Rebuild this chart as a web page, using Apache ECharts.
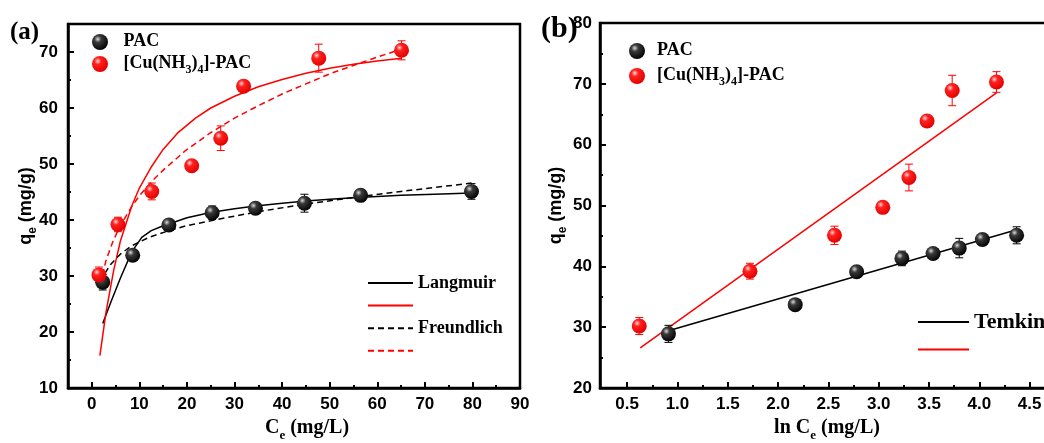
<!DOCTYPE html>
<html>
<head>
<meta charset="utf-8">
<script src="https://cdn.jsdelivr.net/npm/echarts@6/dist/echarts.min.js"></script>
<style>
  html, body { margin: 0; padding: 0; background: #fff; }
  #chart { width: 1044px; height: 443px; }
</style>
</head>
<body>
<div id="chart"></div>
<script>
// ---- (a) adsorption isotherms: qe versus Ce ----
const pacCe  = [2.3, 8.6, 16.2, 25.3, 34.4, 44.7, 56.5, 79.8];
const pacQe  = [28.9, 33.7, 39.1, 41.3, 42.1, 43.0, 44.4, 45.1];
const pacErr = [1.4, 0.4, 0.9, 1.2, 0.6, 1.6, 0.9, 1.4];

const cuCe  = [1.5, 5.5, 12.6, 21.0, 27.1, 31.9, 47.7, 65.1];
const cuQe  = [30.2, 39.2, 45.1, 49.7, 54.6, 63.9, 68.9, 70.3];
const cuErr = [1.4, 1.3, 1.5, 0.5, 2.2, 0.8, 2.5, 1.7];

// fitted curves, sampled along Ce
const langPacCe = [2.3, 4, 6, 8.4, 10.5, 12.5, 14.5, 16.2, 20, 25.2, 30, 34.4, 40, 45, 50, 56, 65, 72, 79.8];
const langPacQe = [21.5, 25.3, 29.6, 34.3, 36.9, 38.1, 38.8, 39.3, 40.4, 41.4, 42.0, 42.5, 43.0, 43.4, 43.7, 44.0, 44.4, 44.6, 44.8];
const freuPacCe = [1.8, 2.3, 4, 6, 8.4, 12, 16.2, 20, 25.2, 30, 36.5, 44.7, 56.5, 65, 72, 79.8];
const freuPacQe = [28.9, 29.9, 32.1, 33.9, 35.4, 36.9, 38.1, 39.0, 39.9, 40.7, 41.7, 42.8, 44.2, 45.1, 45.8, 46.6];

const langCuCe = [1.7, 3, 4.6, 6, 8.4, 10, 12.6, 15, 18, 21.8, 25, 30, 35, 40, 45, 50, 55, 60, 65.1];
const langCuQe = [15.8, 23.6, 31.0, 36.2, 42.5, 45.7, 49.6, 52.6, 55.5, 58.2, 60.0, 62.1, 63.8, 65.1, 66.2, 67.1, 67.8, 68.4, 68.9];
const freuCuCe = [1.7, 3, 4.5, 6, 8.4, 10, 12.6, 15, 19.7, 25, 30, 35, 40, 45, 50, 55, 60, 65.1];
const freuCuQe = [28.4, 32.8, 36.3, 39.0, 42.4, 44.3, 46.9, 48.9, 52.4, 55.6, 58.2, 60.4, 62.5, 64.3, 66.1, 67.6, 69.1, 70.5];

// ---- (b) Temkin plot: qe versus ln Ce ----
const pacLnCe = [0.91, 2.17, 2.78, 3.23, 3.54, 3.80, 4.03, 4.37];
const cuLnCe  = [0.62, 1.72, 2.56, 3.04, 3.30, 3.48, 3.73, 4.17];
const temkinPac = [[0.91, 29.4], [4.37, 46.0]];
const temkinCu  = [[0.63, 26.6], [4.17, 68.5]];

// ---- tick values ----
const xTicksA = [0, 10, 20, 30, 40, 50, 60, 70, 80, 90];
const xMinorA = [5, 15, 25, 35, 45, 55, 65, 75, 85];
const yTicksA = [10, 20, 30, 40, 50, 60, 70];
const yMinorA = [15, 25, 35, 45, 55, 65, 75];
const xTicksB = [0.5, 1.0, 1.5, 2.0, 2.5, 3.0, 3.5, 4.0, 4.5, 5.0];
const xMinorB = [0.75, 1.25, 1.75, 2.25, 2.75, 3.25, 3.75, 4.25, 4.75];
const yTicksB = [20, 30, 40, 50, 60, 70, 80];
const yMinorB = [25, 35, 45, 55, 65, 75];

const SANS = '"Liberation Sans", Arial, sans-serif';
const SERIF = '"Liberation Serif", "Times New Roman", serif';
const RED = '#ff0000';

const zip = (xs, ys) => xs.map((x, i) => [x, ys[i]]);
const errRows = (xs, ys, es) => xs.map((x, i) => [x, ys[i] - es[i], ys[i] + es[i]]);

const ballBlack = new echarts.graphic.RadialGradient(0.36, 0.32, 0.72, [
  { offset: 0, color: '#d8d8d8' },
  { offset: 0.3, color: '#3a3a3a' },
  { offset: 1, color: '#000000' }
]);
const ballRed = new echarts.graphic.RadialGradient(0.36, 0.32, 0.72, [
  { offset: 0, color: '#ffd6d6' },
  { offset: 0.3, color: '#ff2020' },
  { offset: 1, color: '#e00000' }
]);

function subStyles(size, sub, family) {
  return {
    m: { fontSize: size, fontFamily: family, fontWeight: 'bold', color: '#000', lineHeight: size + 2, verticalAlign: 'top' },
    sub: { fontSize: sub, fontFamily: family, fontWeight: 'bold', color: '#000', lineHeight: sub, verticalAlign: 'top', padding: [Math.round(size * 0.55), 0, 0, 0] }
  };
}

function errorBar(params, api) {
  const x = api.value(0);
  const top = api.coord([x, api.value(2)]);
  const bot = api.coord([x, api.value(1)]);
  const half = 4;
  const style = { stroke: api.visual('color'), lineWidth: 1 };
  return {
    type: 'group',
    children: [
      { type: 'line', shape: { x1: top[0], y1: top[1], x2: bot[0], y2: bot[1] }, style },
      { type: 'line', shape: { x1: top[0] - half, y1: top[1], x2: top[0] + half, y2: top[1] }, style },
      { type: 'line', shape: { x1: bot[0] - half, y1: bot[1], x2: bot[0] + half, y2: bot[1] }, style }
    ]
  };
}

function mainX(grid, min, max, ticks, fmt, name, gap, namePad) {
  return {
    type: 'value', gridIndex: grid, position: 'bottom', min, max,
    axisLine: { show: true, onZero: false, lineStyle: { color: '#000', width: 2.5 } },
    axisTick: { show: true, inside: true, length: 6, customValues: ticks, lineStyle: { color: '#000', width: 2 } },
    axisLabel: { show: true, customValues: ticks, margin: 8, formatter: fmt, color: '#000', fontFamily: SANS, fontWeight: 'bold', fontSize: 17 },
    splitLine: { show: false },
    name, nameLocation: 'middle', nameGap: gap,
    nameTextStyle: { padding: namePad, rich: subStyles(20, 13, SERIF) }
  };
}
function minorX(grid, min, max, ticks) {
  return {
    type: 'value', gridIndex: grid, position: 'bottom', min, max,
    axisLine: { show: false, onZero: false },
    axisTick: { show: true, inside: true, length: 3, customValues: ticks, lineStyle: { color: '#000', width: 2 } },
    axisLabel: { show: false }, splitLine: { show: false }
  };
}
function mainY(grid, min, max, ticks, name, gap, margin) {
  return {
    type: 'value', gridIndex: grid, position: 'left', min, max,
    axisLine: { show: true, onZero: false, lineStyle: { color: '#000', width: 2.5 } },
    axisTick: { show: true, inside: true, length: 6, customValues: ticks, lineStyle: { color: '#000', width: 2 } },
    axisLabel: { show: true, customValues: ticks, margin, color: '#000', fontFamily: SANS, fontWeight: 'bold', fontSize: 17 },
    splitLine: { show: false },
    name, nameLocation: 'middle', nameGap: gap, nameRotate: 90, nameMoveOverlap: false,
    nameTextStyle: { rich: subStyles(18, 12, SANS) }
  };
}
function minorY(grid, min, max, ticks) {
  return {
    type: 'value', gridIndex: grid, position: 'left', min, max,
    axisLine: { show: false, onZero: false },
    axisTick: { show: true, inside: true, length: 3, customValues: ticks, lineStyle: { color: '#000', width: 2 } },
    axisLabel: { show: false }, splitLine: { show: false }
  };
}

const cuLegendName = '{m|[Cu(NH}{sub|3}{m|)}{sub|4}{m|]-PAC}';
function markerLegend(left, top, gap, iconW) {
  return {
    left, top, orient: 'vertical', selectedMode: false, padding: 0,
    itemWidth: iconW, itemHeight: 16, itemGap: gap, icon: 'circle',
    data: ['PAC', 'Cu-PAC'],
    formatter: n => n === 'PAC' ? '{m|PAC}' : cuLegendName,
    textStyle: { rich: subStyles(18, 12, SERIF) }
  };
}
function lineLegend(left, top, gap, width, names, fontSize) {
  return {
    left, top, orient: 'vertical', selectedMode: false, padding: 0,
    itemWidth: width, itemHeight: 14, itemGap: gap,
    itemStyle: { opacity: 0 },
    data: names,
    formatter: n => n.endsWith('-Cu') ? '' : n,
    textStyle: { color: '#000', fontFamily: SERIF, fontWeight: 'bold', fontSize, lineHeight: fontSize + 2 }
  };
}

const lineSeries = (name, x, y, data, color, type) => ({
  name, type: 'line', xAxisIndex: x, yAxisIndex: y, data,
  symbol: 'none', showSymbol: false, smooth: false,
  lineStyle: { color, width: 1.5, type: type === 'dashed' ? [6, 4] : 'solid' },
  itemStyle: { color }, z: 2, silent: true
});
const ballSeries = (name, x, y, data, color) => ({
  name, type: 'scatter', xAxisIndex: x, yAxisIndex: y, data,
  symbol: 'circle', symbolSize: 15, itemStyle: { color, opacity: 1 }, z: 4, silent: true
});
const barSeries = (x, y, data, color) => ({
  type: 'custom', xAxisIndex: x, yAxisIndex: y, data, renderItem: errorBar,
  encode: { x: 0, y: [1, 2] }, itemStyle: { color }, z: 3, silent: true
});

const option = {
  animation: false,
  backgroundColor: '#fff',
  grid: [
    { left: 68, top: 24, width: 452, height: 364, outerBoundsMode: 'none', containLabel: false,
      show: true, borderColor: '#000', borderWidth: 2.5 },
    { left: 600, top: 23, width: 480, height: 365, outerBoundsMode: 'none', containLabel: false,
      show: true, borderColor: '#000', borderWidth: 2.5 }
  ],
  xAxis: [
    mainX(0, -5, 90, xTicksA, v => String(v), '{m|C}{sub|e}{m| (mg/L)}', 29, [0, 0, 0, 26]),
    minorX(0, -5, 90, xMinorA),
    mainX(1, 0.23, 5.0, xTicksB, v => v.toFixed(1), '{m|ln C}{sub|e}{m| (mg/L)}', 29, [0, 26, 0, 0]),
    minorX(1, 0.23, 5.0, xMinorB)
  ],
  yAxis: [
    mainY(0, 10, 75, yTicksA, '{m|q}{sub|e}{m| (mg/g)}', 31, 10),
    minorY(0, 10, 75, yMinorA),
    mainY(1, 20, 80, yTicksB, '{m|q}{sub|e}{m| (mg/g)}', 33, 8),
    minorY(1, 20, 80, yMinorB)
  ],
  legend: [
    markerLegend(92, 32, 4, 37),
    markerLegend(629, 41, 7, 30),
    lineLegend(367, 273, 7, 45, ['Langmuir', 'Langmuir-Cu', 'Freundlich', 'Freundlich-Cu'], 18),
    lineLegend(917, 310, 10, 51, ['Temkin', 'Temkin-Cu'], 22)
  ],
  graphic: [
    { type: 'text', left: 10, top: 20, style: { text: '(a)', fill: '#000', font: 'bold 25px ' + SERIF } },
    { type: 'text', left: 541, top: 14, style: { text: '(b)', fill: '#000', font: 'bold 30px ' + SERIF } }
  ],
  series: [
    lineSeries('Langmuir', 0, 0, zip(langPacCe, langPacQe), '#000', 'solid'),
    lineSeries('Langmuir-Cu', 0, 0, zip(langCuCe, langCuQe), RED, 'solid'),
    lineSeries('Freundlich', 0, 0, zip(freuPacCe, freuPacQe), '#000', 'dashed'),
    lineSeries('Freundlich-Cu', 0, 0, zip(freuCuCe, freuCuQe), RED, 'dashed'),
    barSeries(0, 0, errRows(pacCe, pacQe, pacErr), '#000'),
    barSeries(0, 0, errRows(cuCe, cuQe, cuErr), RED),
    ballSeries('PAC', 0, 0, zip(pacCe, pacQe), ballBlack),
    ballSeries('Cu-PAC', 0, 0, zip(cuCe, cuQe), ballRed),

    lineSeries('Temkin', 2, 2, temkinPac, '#000', 'solid'),
    lineSeries('Temkin-Cu', 2, 2, temkinCu, RED, 'solid'),
    barSeries(2, 2, errRows(pacLnCe, pacQe, pacErr), '#000'),
    barSeries(2, 2, errRows(cuLnCe, cuQe, cuErr), RED),
    ballSeries('PAC', 2, 2, zip(pacLnCe, pacQe), ballBlack),
    ballSeries('Cu-PAC', 2, 2, zip(cuLnCe, cuQe), ballRed)
  ]
};

const chart = echarts.init(document.getElementById('chart'), null, { renderer: 'canvas' });
chart.setOption(option);
</script>
</body>
</html>
